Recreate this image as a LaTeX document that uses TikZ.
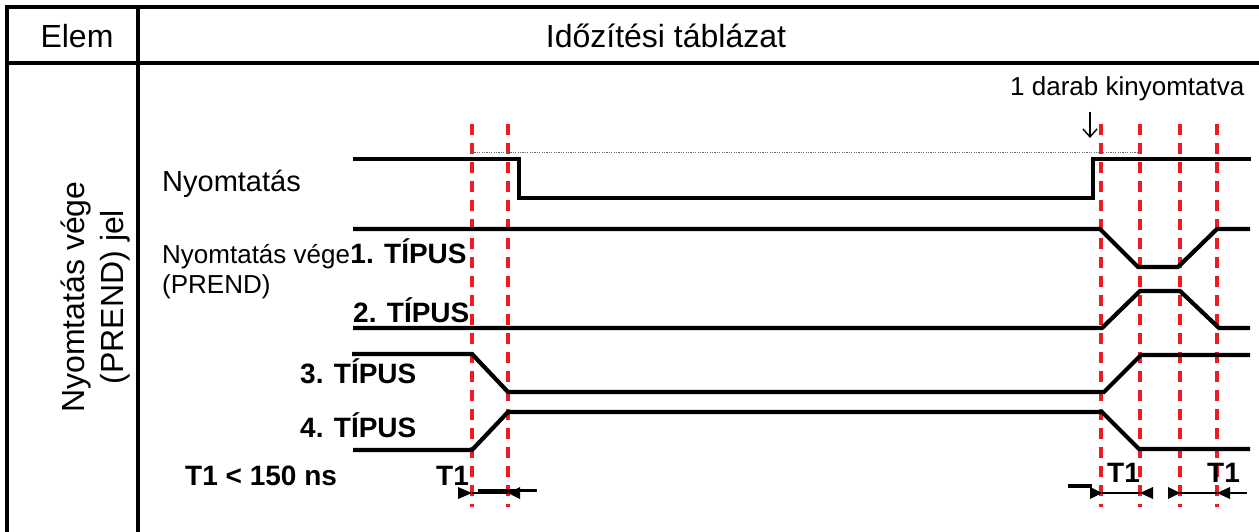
\documentclass[tikz,border=0pt]{standalone}
\usepackage{fontspec}
\setmainfont{Liberation Sans}
\usetikzlibrary{arrows.meta}
\definecolor{dred}{RGB}{237,28,36}
\begin{document}
\begin{tikzpicture}[x=1pt,y=-1pt,
  frame/.style={line width=3.6pt},
  sig/.style={line width=4.2pt, line join=miter},
  guide/.style={dred, line width=3.2pt, dash pattern=on 11pt off 8pt},
  lbl/.style={inner sep=0pt, anchor=base west, font=\fontsize{26}{30}\selectfont},
  blbl/.style={inner sep=0pt, anchor=base west, font=\fontsize{28}{32}\selectfont\bfseries},
  hdr/.style={inner sep=0pt, anchor=base, font=\fontsize{32}{36}\selectfont},
  dimline/.style={line width=1.2pt},
  bar/.style={line width=3.4pt},
]
\useasboundingbox (0,0) rectangle (1259,532);
% table frame
\draw[frame] (7,532) -- (7,7) -- (1259,7);
\draw[frame] (7,63) -- (1259,63);
\draw[frame] (138,7) -- (138,532);
% headers
\node[hdr] (elem) at (77,48) {Elem};
\node[hdr] (title) at (666,48) {Időzítési táblázat};
\node[hdr, rotate=90] (side1) at (84,297) {Nyomtatás vége};
\node[hdr, rotate=90] (side2) at (123,297) {(PREND) jel};
% guide lines
\foreach \x/\n in {472/ga,508/gb,1101/gc,1140/gd,1180/ge,1217/gf}{
  \coordinate (\n t) at (\x,124);
  \coordinate (\n b) at (\x,507);
  \draw[guide] (\n t) -- (\n b);
}
% dotted reference
\draw[black!60, line width=1pt, dash pattern=on 1.2pt off 1.2pt] (472,153) -- (1140,153);
% signals
\draw[sig] (353,159) -- (519,159) -- (519,198) -- (1093,198) -- (1093,159) -- (1251,159);
\draw[sig] (353,229) -- (1100,229) -- (1138,267) -- (1178,267) -- (1217,229) -- (1250,229);
\draw[sig] (353,328) -- (1102,328) -- (1140,291) -- (1180,291) -- (1219,328) -- (1250,328);
\draw[sig] (352,354) -- (472,354) -- (508,392) -- (1104,392) -- (1141,355) -- (1250,355);
\draw[sig] (353,450) -- (472,450) -- (508,412) -- (1102,412) -- (1139,449) -- (1250,449);
% labels
\node[lbl, font=\fontsize{29}{33}\selectfont] (nyom) at (162,192) {Nyomtatás};
\node[lbl] (vege) at (162,263) {Nyomtatás vége};
\node[blbl] (t1) at (vege.base east) {1. TÍPUS};
\node[lbl] (prend) at (162,293) {(PREND)};
\node[blbl] (t2) at (353,322) {2. TÍPUS};
\node[blbl] (t3) at (300,383) {3. TÍPUS};
\node[blbl] (t4) at (300,437) {4. TÍPUS};
\node[blbl] (lim) at (185,485) {T1 < 150 ns};
\node[blbl] (ta) at (436,485) {T1};
\node[blbl] (tb) at (1107,482) {T1};
\node[blbl] (tc) at (1207,482) {T1};
\node[lbl] (darab) at (1010,96) {1 darab kinyomtatva};
\coordinate (arrs) at (1090,112);
\coordinate (arre) at (1090,138);
\draw[line width=1.4pt, -{Straight Barb[length=8pt,width=14pt]}] (arrs) -- (arre);
% dimension arrows, left
\fill (458,487) -- (472,493) -- (458,499) -- cycle;
\draw[dimline] (472,493) -- (508,493);
\fill (520,487) -- (508,493) -- (520,499) -- cycle;
\draw[bar] (478,490.5) -- (537,490.5);
% dimension arrows, right
\draw[bar] (1068,486) -- (1092,486);
\fill (1090,487) -- (1102,493) -- (1090,499) -- cycle;
\draw[dimline] (1102,493) -- (1140,493);
\fill (1153,487) -- (1140,493) -- (1153,499) -- cycle;
\fill (1168,487) -- (1180,493) -- (1168,499) -- cycle;
\draw[dimline] (1180,493) -- (1217,493);
\fill (1230,487) -- (1217,493) -- (1230,499) -- cycle;
\draw[dimline] (1230,493) -- (1247,493);
\end{tikzpicture}
\end{document}
